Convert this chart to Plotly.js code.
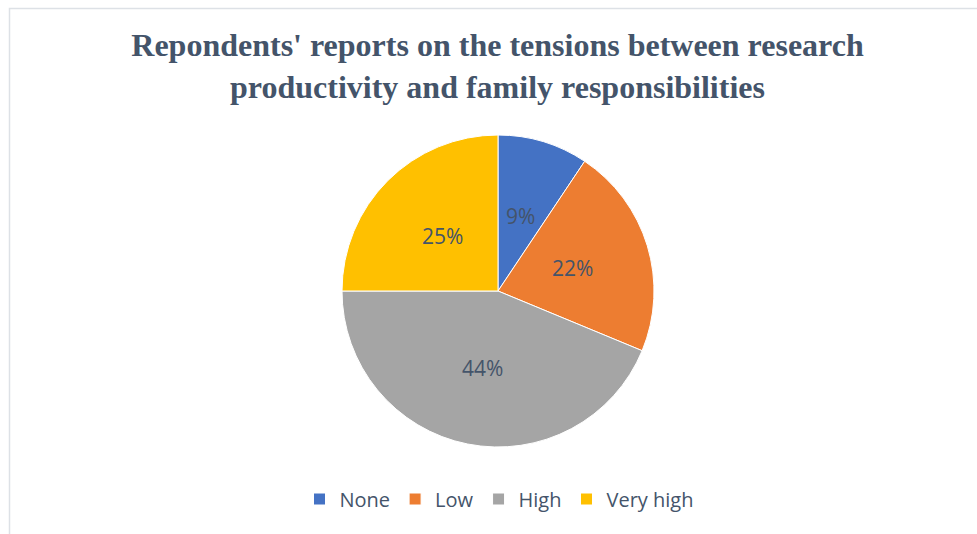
<!DOCTYPE html>
<html>
<head>
<meta charset="utf-8">
<script src="https://cdn.plot.ly/plotly-3.0.1.min.js"></script>
<style>
html,body{margin:0;padding:0;background:#fff;}
#chart{width:977px;height:534px;}
</style>
</head>
<body>
<div id="chart"></div>
<script>
const categories = ["None", "Low", "High", "Very high"];
const counts = [3, 7, 14, 8];
const sliceColors = ["#4472C4", "#ED7D31", "#A5A5A5", "#FFC000"];
const chartTitle = "Repondents' reports on the tensions between research<br>productivity and family responsibilities";

const W = 977, H = 534;
const cx = 498, cy = 291, r = 156;
const labelFont = { family: "Open Sans, Liberation Sans, sans-serif", size: 21, color: "#44546A" };

const trace = {
  type: "pie",
  labels: categories,
  values: counts,
  sort: false,
  direction: "clockwise",
  rotation: 0,
  marker: { colors: sliceColors, line: { color: "#FFFFFF", width: 1 } },
  textinfo: "none",
  hoverinfo: "label+percent",
  domain: { x: [(cx - r) / W, (cx + r) / W], y: [(H - cy - r) / H, (H - cy + r) / H] }
};

// data labels placed at the middle of each slice (half radius along its bisector), computed from the values
const total = counts.reduce((a, b) => a + b, 0);
let cum = 0;
const annotations = counts.map((v) => {
  const mid = (cum + v / 2) / total;
  cum += v;
  const ang = mid * 2 * Math.PI;
  const px = cx + 0.5 * r * Math.sin(ang);
  const py = cy - 0.5 * r * Math.cos(ang);
  return {
    xref: "paper", yref: "paper",
    x: px / W, y: 1 - py / H,
    xanchor: "center", yanchor: "middle",
    text: Math.round(100 * v / total) + "%",
    showarrow: false,
    font: labelFont
  };
});

const layout = {
  width: W, height: H,
  margin: { l: 0, r: 0, t: 0, b: 0 },
  paper_bgcolor: "#FFFFFF",
  title: {
    text: chartTitle,
    font: { family: "Liberation Serif, Times New Roman, serif", size: 32, color: "#44546A", weight: "bold" },
    x: 497.5 / W, xanchor: "center", xref: "paper",
    y: 1 - 56 / H, yanchor: "middle", yref: "container"
  },
  showlegend: true,
  legend: {
    orientation: "h",
    x: 499 / W, xanchor: "center",
    y: 1 - 499 / H, yanchor: "middle",
    font: { family: "Open Sans, Liberation Sans, sans-serif", size: 20, color: "#44546A" },
    itemwidth: 30,
    traceorder: "normal"
  },
  annotations: annotations,
  shapes: [
    { type: "rect", xref: "paper", yref: "paper", x0: 9.5 / W, x1: 1.05, y0: -0.05, y1: 1 - 8.5 / H,
      line: { color: "#DDE1E6", width: 1.5 }, fillcolor: "rgba(0,0,0,0)", layer: "below" }
  ]
};

Plotly.newPlot("chart", [trace], layout, { displayModeBar: false, staticPlot: true });
</script>
</body>
</html>
